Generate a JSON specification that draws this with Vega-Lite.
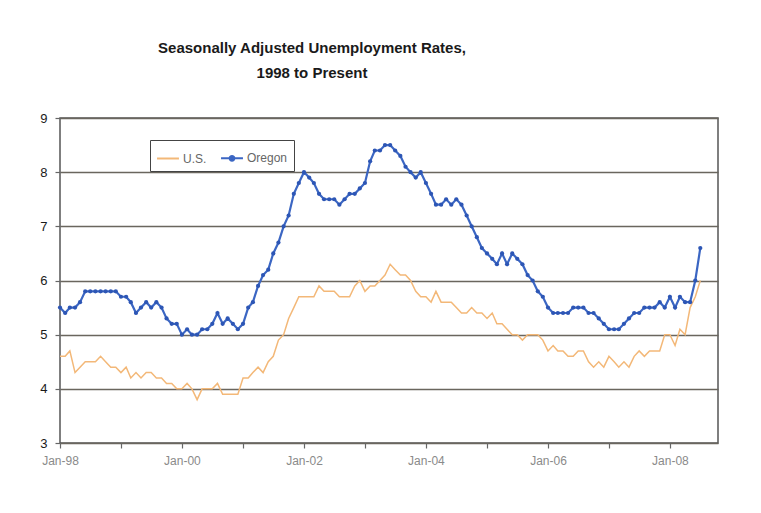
{
  "$schema": "https://vega.github.io/schema/vega-lite/v6.json",
  "width": 658,
  "height": 325,
  "autosize": {"type": "none"},
  "padding": {"left": 60, "top": 118, "right": 43, "bottom": 70},
  "background": "white",
  "title": {
    "text": ["Seasonally Adjusted Unemployment Rates,", "1998 to Present"],
    "anchor": "middle",
    "frame": "group",
    "font": "Liberation Sans",
    "fontSize": 15,
    "fontWeight": "bold",
    "lineHeight": 25,
    "offset": 31,
    "dx": -77,
    "color": "#1a1a1a"
  },
  "data": {
    "values": [
      {"d": "1998-01-01", "US": 4.6, "Oregon": 5.5},
      {"d": "1998-02-01", "US": 4.6, "Oregon": 5.4},
      {"d": "1998-03-01", "US": 4.7, "Oregon": 5.5},
      {"d": "1998-04-01", "US": 4.3, "Oregon": 5.5},
      {"d": "1998-05-01", "US": 4.4, "Oregon": 5.6},
      {"d": "1998-06-01", "US": 4.5, "Oregon": 5.8},
      {"d": "1998-07-01", "US": 4.5, "Oregon": 5.8},
      {"d": "1998-08-01", "US": 4.5, "Oregon": 5.8},
      {"d": "1998-09-01", "US": 4.6, "Oregon": 5.8},
      {"d": "1998-10-01", "US": 4.5, "Oregon": 5.8},
      {"d": "1998-11-01", "US": 4.4, "Oregon": 5.8},
      {"d": "1998-12-01", "US": 4.4, "Oregon": 5.8},
      {"d": "1999-01-01", "US": 4.3, "Oregon": 5.7},
      {"d": "1999-02-01", "US": 4.4, "Oregon": 5.7},
      {"d": "1999-03-01", "US": 4.2, "Oregon": 5.6},
      {"d": "1999-04-01", "US": 4.3, "Oregon": 5.4},
      {"d": "1999-05-01", "US": 4.2, "Oregon": 5.5},
      {"d": "1999-06-01", "US": 4.3, "Oregon": 5.6},
      {"d": "1999-07-01", "US": 4.3, "Oregon": 5.5},
      {"d": "1999-08-01", "US": 4.2, "Oregon": 5.6},
      {"d": "1999-09-01", "US": 4.2, "Oregon": 5.5},
      {"d": "1999-10-01", "US": 4.1, "Oregon": 5.3},
      {"d": "1999-11-01", "US": 4.1, "Oregon": 5.2},
      {"d": "1999-12-01", "US": 4.0, "Oregon": 5.2},
      {"d": "2000-01-01", "US": 4.0, "Oregon": 5.0},
      {"d": "2000-02-01", "US": 4.1, "Oregon": 5.1},
      {"d": "2000-03-01", "US": 4.0, "Oregon": 5.0},
      {"d": "2000-04-01", "US": 3.8, "Oregon": 5.0},
      {"d": "2000-05-01", "US": 4.0, "Oregon": 5.1},
      {"d": "2000-06-01", "US": 4.0, "Oregon": 5.1},
      {"d": "2000-07-01", "US": 4.0, "Oregon": 5.2},
      {"d": "2000-08-01", "US": 4.1, "Oregon": 5.4},
      {"d": "2000-09-01", "US": 3.9, "Oregon": 5.2},
      {"d": "2000-10-01", "US": 3.9, "Oregon": 5.3},
      {"d": "2000-11-01", "US": 3.9, "Oregon": 5.2},
      {"d": "2000-12-01", "US": 3.9, "Oregon": 5.1},
      {"d": "2001-01-01", "US": 4.2, "Oregon": 5.2},
      {"d": "2001-02-01", "US": 4.2, "Oregon": 5.5},
      {"d": "2001-03-01", "US": 4.3, "Oregon": 5.6},
      {"d": "2001-04-01", "US": 4.4, "Oregon": 5.9},
      {"d": "2001-05-01", "US": 4.3, "Oregon": 6.1},
      {"d": "2001-06-01", "US": 4.5, "Oregon": 6.2},
      {"d": "2001-07-01", "US": 4.6, "Oregon": 6.5},
      {"d": "2001-08-01", "US": 4.9, "Oregon": 6.7},
      {"d": "2001-09-01", "US": 5.0, "Oregon": 7.0},
      {"d": "2001-10-01", "US": 5.3, "Oregon": 7.2},
      {"d": "2001-11-01", "US": 5.5, "Oregon": 7.6},
      {"d": "2001-12-01", "US": 5.7, "Oregon": 7.8},
      {"d": "2002-01-01", "US": 5.7, "Oregon": 8.0},
      {"d": "2002-02-01", "US": 5.7, "Oregon": 7.9},
      {"d": "2002-03-01", "US": 5.7, "Oregon": 7.8},
      {"d": "2002-04-01", "US": 5.9, "Oregon": 7.6},
      {"d": "2002-05-01", "US": 5.8, "Oregon": 7.5},
      {"d": "2002-06-01", "US": 5.8, "Oregon": 7.5},
      {"d": "2002-07-01", "US": 5.8, "Oregon": 7.5},
      {"d": "2002-08-01", "US": 5.7, "Oregon": 7.4},
      {"d": "2002-09-01", "US": 5.7, "Oregon": 7.5},
      {"d": "2002-10-01", "US": 5.7, "Oregon": 7.6},
      {"d": "2002-11-01", "US": 5.9, "Oregon": 7.6},
      {"d": "2002-12-01", "US": 6.0, "Oregon": 7.7},
      {"d": "2003-01-01", "US": 5.8, "Oregon": 7.8},
      {"d": "2003-02-01", "US": 5.9, "Oregon": 8.2},
      {"d": "2003-03-01", "US": 5.9, "Oregon": 8.4},
      {"d": "2003-04-01", "US": 6.0, "Oregon": 8.4},
      {"d": "2003-05-01", "US": 6.1, "Oregon": 8.5},
      {"d": "2003-06-01", "US": 6.3, "Oregon": 8.5},
      {"d": "2003-07-01", "US": 6.2, "Oregon": 8.4},
      {"d": "2003-08-01", "US": 6.1, "Oregon": 8.3},
      {"d": "2003-09-01", "US": 6.1, "Oregon": 8.1},
      {"d": "2003-10-01", "US": 6.0, "Oregon": 8.0},
      {"d": "2003-11-01", "US": 5.8, "Oregon": 7.9},
      {"d": "2003-12-01", "US": 5.7, "Oregon": 8.0},
      {"d": "2004-01-01", "US": 5.7, "Oregon": 7.8},
      {"d": "2004-02-01", "US": 5.6, "Oregon": 7.6},
      {"d": "2004-03-01", "US": 5.8, "Oregon": 7.4},
      {"d": "2004-04-01", "US": 5.6, "Oregon": 7.4},
      {"d": "2004-05-01", "US": 5.6, "Oregon": 7.5},
      {"d": "2004-06-01", "US": 5.6, "Oregon": 7.4},
      {"d": "2004-07-01", "US": 5.5, "Oregon": 7.5},
      {"d": "2004-08-01", "US": 5.4, "Oregon": 7.4},
      {"d": "2004-09-01", "US": 5.4, "Oregon": 7.2},
      {"d": "2004-10-01", "US": 5.5, "Oregon": 7.0},
      {"d": "2004-11-01", "US": 5.4, "Oregon": 6.8},
      {"d": "2004-12-01", "US": 5.4, "Oregon": 6.6},
      {"d": "2005-01-01", "US": 5.3, "Oregon": 6.5},
      {"d": "2005-02-01", "US": 5.4, "Oregon": 6.4},
      {"d": "2005-03-01", "US": 5.2, "Oregon": 6.3},
      {"d": "2005-04-01", "US": 5.2, "Oregon": 6.5},
      {"d": "2005-05-01", "US": 5.1, "Oregon": 6.3},
      {"d": "2005-06-01", "US": 5.0, "Oregon": 6.5},
      {"d": "2005-07-01", "US": 5.0, "Oregon": 6.4},
      {"d": "2005-08-01", "US": 4.9, "Oregon": 6.3},
      {"d": "2005-09-01", "US": 5.0, "Oregon": 6.1},
      {"d": "2005-10-01", "US": 5.0, "Oregon": 6.0},
      {"d": "2005-11-01", "US": 5.0, "Oregon": 5.8},
      {"d": "2005-12-01", "US": 4.9, "Oregon": 5.7},
      {"d": "2006-01-01", "US": 4.7, "Oregon": 5.5},
      {"d": "2006-02-01", "US": 4.8, "Oregon": 5.4},
      {"d": "2006-03-01", "US": 4.7, "Oregon": 5.4},
      {"d": "2006-04-01", "US": 4.7, "Oregon": 5.4},
      {"d": "2006-05-01", "US": 4.6, "Oregon": 5.4},
      {"d": "2006-06-01", "US": 4.6, "Oregon": 5.5},
      {"d": "2006-07-01", "US": 4.7, "Oregon": 5.5},
      {"d": "2006-08-01", "US": 4.7, "Oregon": 5.5},
      {"d": "2006-09-01", "US": 4.5, "Oregon": 5.4},
      {"d": "2006-10-01", "US": 4.4, "Oregon": 5.4},
      {"d": "2006-11-01", "US": 4.5, "Oregon": 5.3},
      {"d": "2006-12-01", "US": 4.4, "Oregon": 5.2},
      {"d": "2007-01-01", "US": 4.6, "Oregon": 5.1},
      {"d": "2007-02-01", "US": 4.5, "Oregon": 5.1},
      {"d": "2007-03-01", "US": 4.4, "Oregon": 5.1},
      {"d": "2007-04-01", "US": 4.5, "Oregon": 5.2},
      {"d": "2007-05-01", "US": 4.4, "Oregon": 5.3},
      {"d": "2007-06-01", "US": 4.6, "Oregon": 5.4},
      {"d": "2007-07-01", "US": 4.7, "Oregon": 5.4},
      {"d": "2007-08-01", "US": 4.6, "Oregon": 5.5},
      {"d": "2007-09-01", "US": 4.7, "Oregon": 5.5},
      {"d": "2007-10-01", "US": 4.7, "Oregon": 5.5},
      {"d": "2007-11-01", "US": 4.7, "Oregon": 5.6},
      {"d": "2007-12-01", "US": 5.0, "Oregon": 5.5},
      {"d": "2008-01-01", "US": 5.0, "Oregon": 5.7},
      {"d": "2008-02-01", "US": 4.8, "Oregon": 5.5},
      {"d": "2008-03-01", "US": 5.1, "Oregon": 5.7},
      {"d": "2008-04-01", "US": 5.0, "Oregon": 5.6},
      {"d": "2008-05-01", "US": 5.5, "Oregon": 5.6},
      {"d": "2008-06-01", "US": 5.7, "Oregon": 6.0},
      {"d": "2008-07-01", "US": 6.0, "Oregon": 6.6}
    ]
  },
  "encoding": {
    "x": {
      "field": "d",
      "type": "temporal",
      "scale": {
        "type": "utc",
        "domain": [
          {"year": 1998, "month": 1, "date": 1, "utc": true},
          {"year": 2008, "month": 10, "date": 15, "utc": true}
        ]
      },
      "axis": {
        "title": null,
        "grid": false,
        "domain": false,
        "values": [
          {"year": 1998, "month": 1, "date": 1, "utc": true},
          {"year": 1999, "month": 1, "date": 1, "utc": true},
          {"year": 2000, "month": 1, "date": 1, "utc": true},
          {"year": 2001, "month": 1, "date": 1, "utc": true},
          {"year": 2002, "month": 1, "date": 1, "utc": true},
          {"year": 2003, "month": 1, "date": 1, "utc": true},
          {"year": 2004, "month": 1, "date": 1, "utc": true},
          {"year": 2005, "month": 1, "date": 1, "utc": true},
          {"year": 2006, "month": 1, "date": 1, "utc": true},
          {"year": 2007, "month": 1, "date": 1, "utc": true},
          {"year": 2008, "month": 1, "date": 1, "utc": true}
        ],
        "labelExpr": "utcyear(datum.value) % 2 == 0 ? utcFormat(datum.value, '%b-%y') : ''",
        "labelFont": "Liberation Sans",
        "labelFontSize": 12,
        "labelColor": "#8a8a8a",
        "labelPadding": 7,
        "labelFlush": false,
        "labelOverlap": false,
        "tickSize": 5,
        "tickColor": "#666",
        "tickWidth": 1.2
      }
    }
  },
  "layer": [
    {
      "mark": {"type": "line", "strokeWidth": 1.5, "interpolate": "linear"},
      "encoding": {
        "y": {
          "field": "US",
          "type": "quantitative",
          "scale": {"domain": [3, 9], "nice": false, "zero": false},
          "axis": {
            "title": null,
            "values": [3, 4, 5, 6, 7, 8, 9],
            "format": "d",
            "grid": true,
            "gridColor": "#6a665e",
            "gridWidth": 1.3,
            "domain": false,
            "tickSize": 5,
            "tickColor": "#666",
            "tickWidth": 1.2,
            "labelFont": "Liberation Sans",
            "labelFontSize": 13,
            "labelColor": "#1a1a1a",
            "labelPadding": 8
          }
        },
        "color": {
          "datum": "U.S.",
          "type": "nominal",
          "scale": {"domain": ["U.S.", "Oregon"], "range": ["#F3B878", "#3B66C3"]},
          "legend": {
            "title": null,
            "orient": "none",
            "legendX": 90,
            "legendY": 22,
            "direction": "horizontal",
            "strokeColor": "#444",
            "fillColor": "white",
            "padding": 6,
            "symbolType": "stroke",
            "symbolSize": 480,
            "symbolStrokeWidth": 2,
            "symbolFillColor": "#2d56b5",
            "labelFont": "Liberation Sans",
            "labelFontSize": 12,
            "labelColor": "#666",
            "labelOffset": 3,
            "columnPadding": 10,
            "encode": {
              "symbols": {
                "update": {
                  "shape": {"signal": "datum.value === 'Oregon' ? 'M-1,0H1M-0.22,0A0.22,0.22,0,1,1,0.22,0A0.22,0.22,0,1,1,-0.22,0' : 'stroke'"}
                }
              }
            }
          }
        }
      }
    },
    {
      "mark": {"type": "line", "strokeWidth": 2.2, "interpolate": "linear"},
      "encoding": {
        "y": {"field": "Oregon", "type": "quantitative"},
        "color": {"datum": "Oregon", "type": "nominal"}
      }
    },
    {
      "mark": {"type": "point", "filled": true, "size": 18, "color": "#2d56b5", "opacity": 1},
      "encoding": {
        "y": {"field": "Oregon", "type": "quantitative"}
      }
    }
  ],
  "config": {
    "view": {"stroke": "#555", "strokeWidth": 1.5, "fill": "white"},
    "font": "Liberation Sans"
  }
}
